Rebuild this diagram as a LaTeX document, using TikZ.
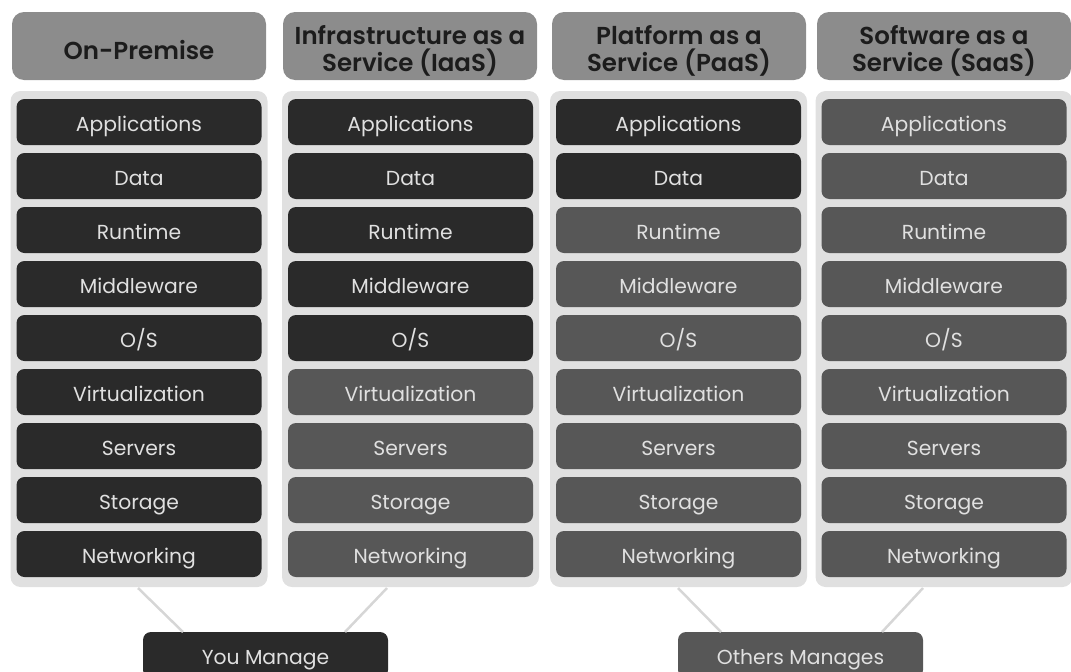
\documentclass[tikz,border=0pt]{standalone}
\usepackage{fontspec}
\setmainfont{Poppins}
\newfontfamily\headfont{Poppins SemiBold}
\definecolor{headfill}{HTML}{8C8C8C}
\definecolor{headtext}{HTML}{1C1C1C}
\definecolor{panelfill}{HTML}{E0E0E0}
\definecolor{darkrow}{HTML}{2A2A2A}
\definecolor{midrow}{HTML}{575757}
\definecolor{rowtext}{HTML}{E0E0E0}
\definecolor{linkgray}{HTML}{D6D6D6}
\begin{document}
\begin{tikzpicture}[x=1pt,y=-1pt,
  header/.style={fill=headfill, rounded corners=12pt, minimum width=254pt, minimum height=68pt,
    inner sep=0pt, text=headtext, align=center, font=\headfont\fontsize{24.5}{27}\selectfont},
  oneline/.style={header, text height=26pt, text depth=0pt},
  twoline/.style={header, text height=50pt, text depth=0pt},
  panel/.style={fill=panelfill, rounded corners=10pt, minimum width=257pt, minimum height=496pt, inner sep=0pt},
  layer/.style={rounded corners=8pt, minimum width=245pt, minimum height=46pt, inner sep=0pt,
    text=rowtext, font=\fontsize{20.3}{22}\selectfont, text height=18pt, text depth=0pt},
  mine/.style={layer, fill=darkrow},
  theirs/.style={layer, fill=midrow},
  link/.style={draw=linkgray, line width=2.5pt}]
\useasboundingbox (0,0) rectangle (1071,672);

% column headers
\node[oneline] (h1) at (139,46) {On-Premise};
\node[twoline] (h2) at (410,46) {Infrastructure as a\\Service (IaaS)};
\node[twoline] (h3) at (679,46) {Platform as a\\Service (PaaS)};
\node[twoline] (h4) at (944,46) {Software as a\\Service (SaaS)};

% light backing panels
\node[panel] (p1) at (139,339) {};
\node[panel] (p2) at (410.5,339) {};
\node[panel] (p3) at (678.5,339) {};
\node[panel] (p4) at (944,339) {};

% stack layers: column x-centres, number of self-managed layers per column
\foreach \c/\xc/\own in {1/139/9, 2/410.5/5, 3/678.5/2, 4/944/0}{
  \foreach \lbl [count=\r] in {Applications,Data,Runtime,Middleware,O/S,Virtualization,Servers,Storage,Networking}{
    \ifnum\r>\own
      \node[theirs] (c\c r\r) at (\xc,{99+23+54*(\r-1)}) {\lbl};
    \else
      \node[mine] (c\c r\r) at (\xc,{99+23+54*(\r-1)}) {\lbl};
    \fi
  }
}

% legend
\node[mine] (you) at (265.5,655) {You Manage};
\node[theirs] (others) at (800.5,655) {Others Manages};

\coordinate (you-l) at (183,632);
\coordinate (you-r) at (345,632);
\coordinate (oth-l) at (721,632);
\coordinate (oth-r) at (882,632);
\coordinate (p1-b) at (138,588);
\coordinate (p2-b) at (387,588);
\coordinate (p3-b) at (678,588);
\coordinate (p4-b) at (923,588);

\draw[link] (p1-b) -- (you-l);
\draw[link] (p2-b) -- (you-r);
\draw[link] (p3-b) -- (oth-l);
\draw[link] (p4-b) -- (oth-r);
\end{tikzpicture}
\end{document}
